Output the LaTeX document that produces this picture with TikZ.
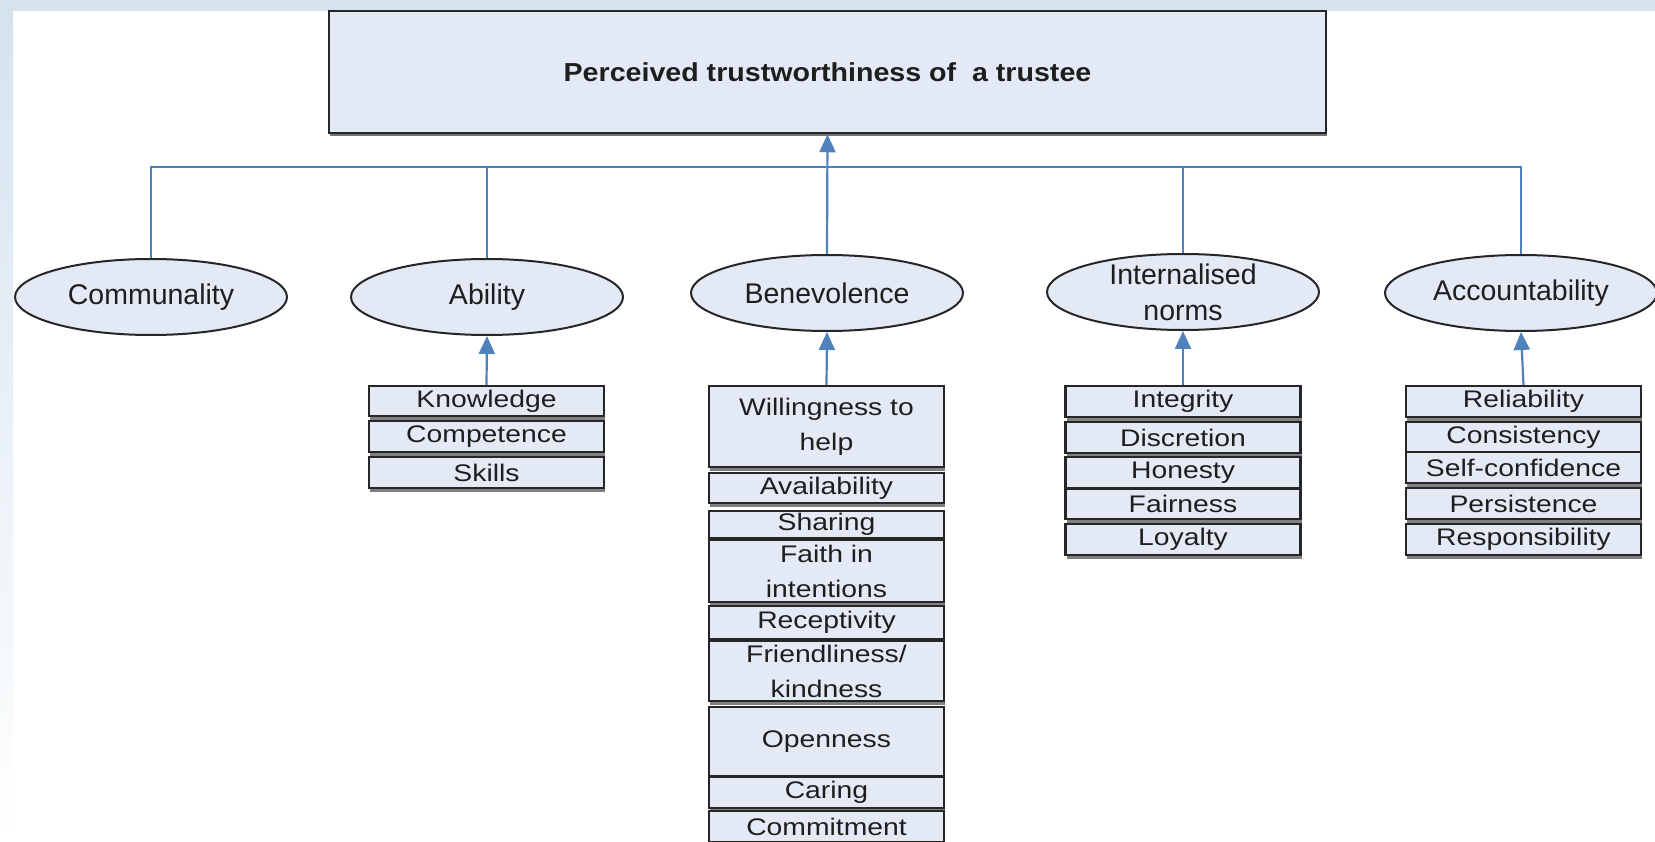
\documentclass[tikz,border=0pt]{standalone}
\usepackage{fontspec}
\setmainfont{Liberation Sans}
\newfontfamily\boxfont[FakeStretch=1.18]{Liberation Sans}
\newfontfamily\titlefont[FakeStretch=1.1]{Liberation Sans}
\usetikzlibrary{shapes.geometric,arrows.meta,shadows}
\definecolor{boxfill}{HTML}{E4EAF5}
\definecolor{linkblue}{HTML}{4F81BD}
\definecolor{bgblue}{HTML}{D5E3EF}
\definecolor{edgecol}{HTML}{262626}
\definecolor{txt}{HTML}{1E1E1E}
\newcommand\itembox[5]{%
  \node[itembox, minimum height=#4pt] (#1) at (#2,#3) {};
  \node[itemtext] (#1-t) at (#1.center) {#5};}
\newcommand\factor[4]{%
  \node[factorshape] (#1) at (#2,#3) {};
  \node[factortext] (#1-t) at (#1.center) {#4};}
\begin{document}
\begin{tikzpicture}[x=1pt,y=-1pt,
  itembox/.style={draw=edgecol, line width=2.2pt, fill=boxfill, minimum width=235pt, inner sep=0pt,
    drop shadow={shadow xshift=1pt,shadow yshift=-4pt,fill=black!50,opacity=1}},
  itemtext/.style={inner sep=0pt, align=center, text=txt, font=\boxfont\fontsize{24}{35}\selectfont},
  factorshape/.style={ellipse, draw=edgecol, line width=2pt, fill=boxfill, minimum width=272pt, minimum height=76pt, inner sep=0pt},
  factortext/.style={inner sep=0pt, align=center, text=txt, font=\fontsize{28.5}{36}\selectfont},
  link/.style={draw=linkblue, line width=2.2pt},
  arrowlink/.style={link, -{Triangle[length=18pt,width=16pt]}}
]
% background
\useasboundingbox (0,0) rectangle (1655,842);
\fill[bgblue] (0,0) rectangle (1655,842);
\fill[white] (13,11) rectangle (1655,842);
\shade[top color=bgblue, bottom color=white] (0,11) rectangle (13,842);

% top box
\node[draw=edgecol, line width=2.5pt, fill=boxfill, minimum width=997pt, minimum height=122pt, inner sep=0pt,
  drop shadow={shadow xshift=1pt,shadow yshift=-3pt,fill=black!55,opacity=1},
  font=\titlefont\bfseries\fontsize{26}{30}\selectfont, text=txt] (top) at (827.5,72) {Perceived trustworthiness of \ a trustee};

% factors
\factor{comm}{151}{297}{Communality}
\factor{abil}{487}{297}{Ability}
\factor{bene}{827}{293}{Benevolence}
\factor{intn}{1183}{292}{Internalised\\norms}
\factor{acct}{1521}{293}{Accountability}

% connectors to top
\coordinate (bus) at (827,167);
\draw[link] (comm.north) -- (comm.north |- bus) -- (acct.north |- bus) -- (acct.north);
\draw[link] (abil.north) -- (abil.north |- bus);
\draw[link] (intn.north) -- (intn.north |- bus);
\draw[arrowlink] (bene.north) -- (top.south);

% Ability items
\itembox{know}{486.5}{401}{30}{Knowledge}
\itembox{comp}{486.5}{436.5}{31}{Competence}
\itembox{skil}{486.5}{472.5}{31}{Skills}

% Benevolence items
\itembox{will}{826.5}{426.5}{81}{Willingness to\\help}
\itembox{avai}{826.5}{488}{30}{Availability}
\itembox{shar}{826.5}{524.5}{27}{Sharing}
\itembox{fait}{826.5}{571}{62}{Faith in\\intentions}
\itembox{rece}{826.5}{622.5}{33}{Receptivity}
\itembox{frie}{826.5}{671}{60}{Friendliness/\\kindness}
\itembox{open}{826.5}{741.5}{69}{Openness}
\itembox{cari}{826.5}{792.5}{31}{Caring}
\itembox{comt}{826.5}{826.5}{31}{Commitment}

% Internalised norms items
\itembox{inte}{1183}{401.5}{31}{Integrity}
\itembox{disc}{1183}{437.5}{31}{Discretion}
\itembox{hone}{1183}{472.5}{31}{Honesty}
\itembox{fair}{1183}{504}{30}{Fairness}
\itembox{loya}{1183}{539.5}{31}{Loyalty}

% Accountability items
\itembox{reli}{1523.5}{401.5}{31}{Reliability}
\itembox{cons}{1523.5}{437}{30}{Consistency}
\itembox{self}{1523.5}{467.5}{31}{Self-confidence}
\itembox{pers}{1523.5}{503.5}{31}{Persistence}
\itembox{resp}{1523.5}{539.5}{31}{Responsibility}

% arrows from items to factors
\draw[arrowlink] (know.north) -- (abil.south);
\draw[arrowlink] (will.north) -- (bene.south);
\draw[arrowlink] (inte.north) -- (intn.south);
\draw[arrowlink] (reli.north) -- (acct.south);
\end{tikzpicture}
\end{document}
